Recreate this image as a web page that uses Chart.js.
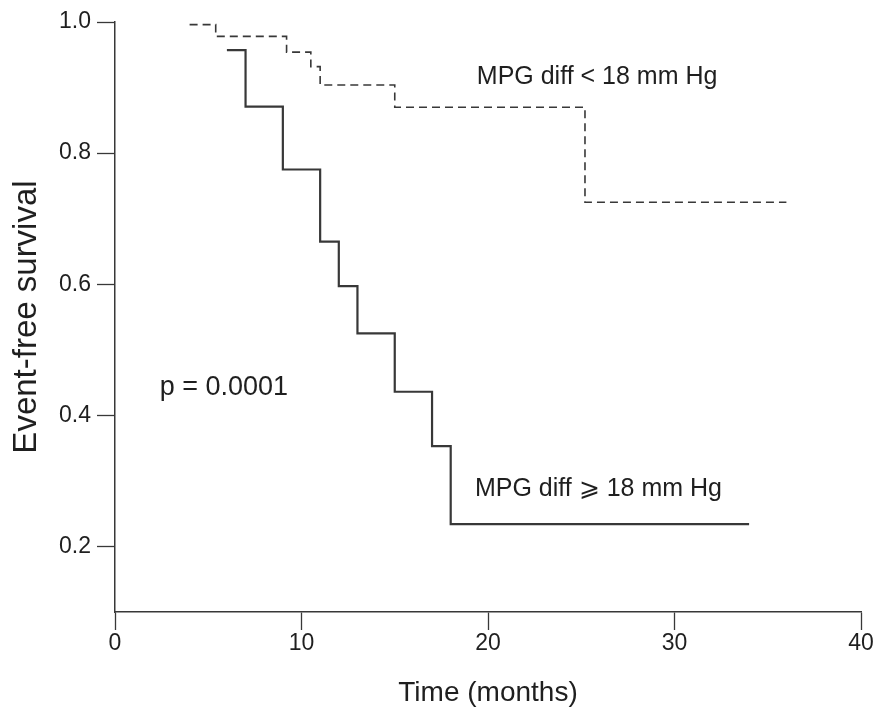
<!DOCTYPE html>
<html><head><meta charset="utf-8">
<script src="https://cdn.jsdelivr.net/npm/chart.js@4/dist/chart.umd.min.js"></script>
<style>html,body{margin:0;padding:0;background:#fff}canvas{display:block}</style>
</head>
<body><canvas id="c" width="879" height="717"></canvas>
<script>
// Data (time in months, event-free survival)
const lowTimes  = [4, 5.4, 9.2, 10.5, 11, 15, 25.2, 36];
const lowSurv   = [0.996, 0.978, 0.954, 0.932, 0.904, 0.870, 0.725, 0.725];
const highTimes = [6, 7, 9, 11, 12, 13, 15, 17, 18, 34];
const highSurv  = [0.957, 0.871, 0.775, 0.665, 0.597, 0.525, 0.436, 0.353, 0.234, 0.234];
const xTicks = [0, 10, 20, 30, 40];
const yTicks = [0.2, 0.4, 0.6, 0.8, 1.0];
const notes = [
  {text: 'MPG diff < 18 mm Hg', x: 19.4, y: 0.916, size: 25},
  {text: 'MPG diff \u2A7E 18 mm Hg', x: 19.3, y: 0.288, size: 25},
  {text: 'p = 0.0001', x: 2.4, y: 0.443, size: 27}
];

const FONT = "'Liberation Sans Narrow','Arial Narrow','Liberation Sans',Arial,sans-serif";
const INK = '#1f1f1f';
const LINE = '#383838';

const toPts = (xs, ys) => xs.map((t, i) => ({x: t, y: ys[i]}));

const notePlugin = {
  id: 'notes',
  afterDraw(chart) {
    const ctx = chart.ctx, xs = chart.scales.x, ys = chart.scales.y;
    ctx.save();
    ctx.fillStyle = INK;
    ctx.textAlign = 'left';
    ctx.textBaseline = 'middle';
    notes.forEach(n => {
      ctx.font = n.size + 'px ' + FONT;
      ctx.fillText(n.text, xs.getPixelForValue(n.x), ys.getPixelForValue(n.y));
    });
    ctx.restore();
  }
};

new Chart(document.getElementById('c'), {
  type: 'line',
  data: {
    datasets: [
      {label: 'MPG diff < 18 mm Hg', data: toPts(lowTimes, lowSurv), stepped: 'before',
       borderColor: LINE, borderWidth: 1.6, borderDash: [8, 5], pointRadius: 0, fill: false},
      {label: 'MPG diff >= 18 mm Hg', data: toPts(highTimes, highSurv), stepped: 'before',
       borderColor: LINE, borderWidth: 2.2, pointRadius: 0, fill: false}
    ]
  },
  options: {
    responsive: false,
    animation: false,
    layout: {padding: {top: 22, right: 18, bottom: 0, left: 0}},
    plugins: {legend: {display: false}, tooltip: {enabled: false}},
    scales: {
      x: {
        type: 'linear', min: 0, max: 40,
        afterBuildTicks: s => { s.ticks = xTicks.map(v => ({value: v})); },
        afterFit: s => { s.height = 105; },
        grid: {drawOnChartArea: false, drawTicks: true, tickLength: 18, tickColor: LINE, tickWidth: 1.3},
        border: {display: true, color: LINE, width: 1.5},
        ticks: {color: INK, font: {family: FONT, size: 23}, padding: 0, maxRotation: 0,
                callback: v => String(v)},
        title: {display: true, text: 'Time (months)', color: INK,
                font: {family: FONT, size: 28}, padding: {top: 0, bottom: 7}}
      },
      y: {
        type: 'linear', min: 0.1, max: 1.0,
        afterBuildTicks: s => { s.ticks = yTicks.map(v => ({value: v})); },
        afterFit: s => { s.width = 115; },
        grid: {drawOnChartArea: false, drawTicks: true, tickLength: 18, tickColor: LINE, tickWidth: 1.3},
        border: {display: true, color: LINE, width: 1.5},
        ticks: {color: INK, font: {family: FONT, size: 23}, padding: 6,
                callback: v => Number(v).toFixed(1)},
        title: {display: true, text: 'Event-free survival', color: INK,
                font: {family: FONT, size: 33}, padding: {top: 7, bottom: 0}}
      }
    }
  },
  plugins: [notePlugin]
});
</script>
</body></html>
